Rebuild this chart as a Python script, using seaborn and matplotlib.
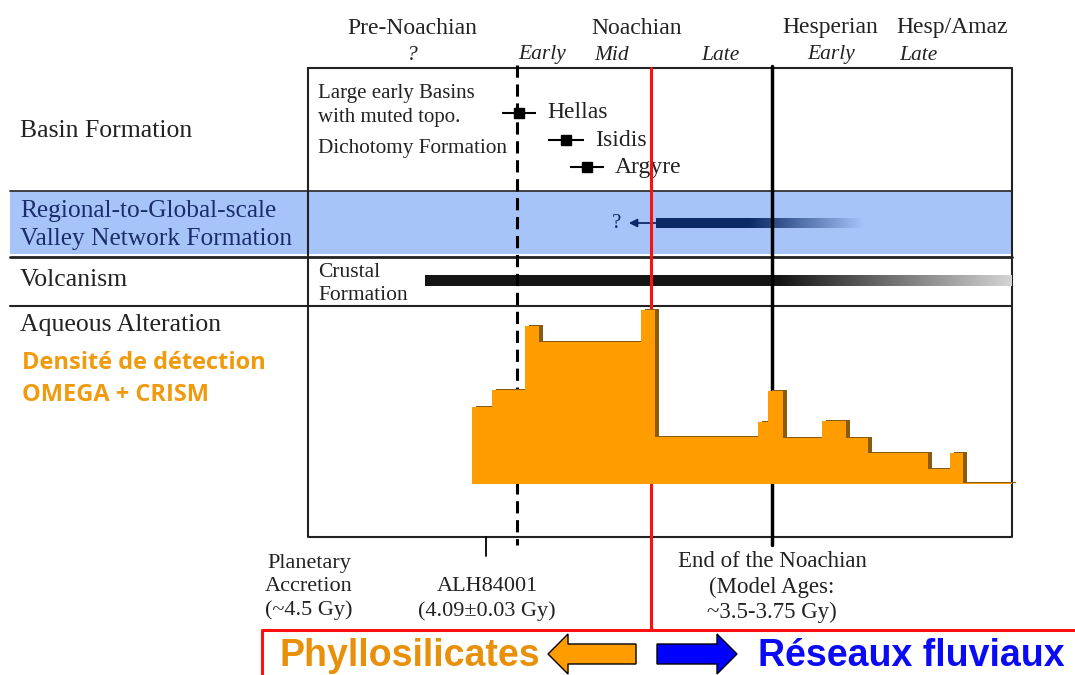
import numpy as np
import pandas as pd
import matplotlib
matplotlib.use("Agg")
import matplotlib.pyplot as plt
import matplotlib.transforms as mtransforms
from matplotlib.patches import Rectangle, FancyArrow
import seaborn as sns

# Timeline x axis runs left to right in diagram units (0-1075)
periodes = ["Pre-Noachian", "Noachian", "Hesperian", "Hesp/Amaz"]
periodes_x = [412, 637, 830, 952]
sous_periodes = ["?", "Early", "Mid", "Late", "Early", "Late"]
sous_periodes_x = [412, 542, 612, 720, 831, 918]

lignes = ["Basin Formation", "Regional-to-Global-scale\nValley Network Formation",
          "Volcanism", "Aqueous Alteration"]

bassins = ["Hellas", "Isidis", "Argyre"]
bassins_age = [519, 566, 587]
bassins_err = [17, 18, 17]

# Aqueous alteration: detection density (OMEGA + CRISM), step histogram
densite_bords = [472, 492, 525, 539, 641, 655, 758, 768, 783, 822, 846, 868, 928, 950, 963, 1012]
densite = [77, 94, 158, 142, 174, 47, 62, 93, 46, 63, 46, 31, 15, 31, 1]

vallees_debut, vallees_solide, vallees_fin = 656, 750, 864
volcan_debut, volcan_solide, volcan_fin = 425, 780, 1012

t_dichotomie = 517
t_fin_noachien = 772
t_phyllo = 651
t_alh = 486

orange = "#FF9C00"
orange_txt = "#F09A0E"
bleu_bande = "#A6C4F8"
marine = "#0B2A66"
gris = "#222222"

sns.set_theme(style="white")
plt.rcParams["font.family"] = ["Liberation Serif", "DejaVu Serif"]

fig = plt.figure(figsize=(10.75, 6.75), dpi=100)
ax = fig.add_axes([0, 0, 1, 1])
ax.set_xlim(0, 1075)
ax.set_ylim(675, 0)
ax.axis("off")

# --- header ---
for nom, x in zip(periodes, periodes_x):
    ax.text(x, 28, nom, ha="center", va="center", fontsize=17, color=gris)
for nom, x in zip(sous_periodes, sous_periodes_x):
    ax.text(x, 55, nom, ha="center", va="center", fontsize=15.5, style="italic", color=gris)

# --- rows ---
ax.add_patch(Rectangle((10, 191), 1002, 63, facecolor=bleu_bande, edgecolor="none", zorder=0))
ax.plot([10, 1012], [191, 191], color="#333333", lw=1.3)
ax.plot([10, 1012], [257, 257], color=gris, lw=2)
ax.plot([10, 1012], [305.5, 305.5], color=gris, lw=1.5)
ax.plot([308, 1012, 1012, 308, 308], [68, 68, 537, 537, 68], color=gris, lw=1.5)

ax.text(20, 131, lignes[0], va="center", fontsize=18.5, color=gris)
ax.text(20, 225, lignes[1], va="center", fontsize=18.3, color="#1A2C6B", linespacing=1.3)
ax.text(20, 280, lignes[2], va="center", fontsize=18.5, color=gris)
ax.text(20, 325, lignes[3], va="center", fontsize=18.5, color=gris)
ax.text(22, 379, "Densité de détection\nOMEGA + CRISM", va="center", fontsize=17,
        fontweight="bold", color=orange_txt, family=["Open Sans", "DejaVu Sans"], linespacing=1.4)

# --- basin formation ---
ax.text(318, 105.5, "Large early Basins\nwith muted topo.", va="center", fontsize=15,
        color=gris, linespacing=1.35)
ax.text(318, 149, "Dichotomy Formation", va="center", fontsize=15.3, color=gris)
bassins_y = [113, 140, 167]
for nom, t, e, y in zip(bassins, bassins_age, bassins_err, bassins_y):
    ax.errorbar(t, y, xerr=e, fmt="s", color="black", ms=7, lw=1.5, capsize=0)
    ax.text(t + e + 11, y, nom, va="center", fontsize=17, color=gris)

# --- valley networks: fading arrow ---
n = 256
grad = np.ones((1, n, 4))
grad[0, :, :3] = matplotlib.colors.to_rgb(marine)
xs = np.linspace(vallees_debut, vallees_fin, n)
grad[0, :, 3] = np.clip(1 - (xs - vallees_solide) / (vallees_fin - vallees_solide), 0, 1)
ax.imshow(grad, extent=[vallees_debut, vallees_fin, 228, 218], aspect="auto", zorder=2,
          interpolation="bilinear")
ax.annotate("", xy=(626, 223), xytext=(vallees_solide, 223),
            arrowprops=dict(arrowstyle="-|>", color=marine, lw=1.3, mutation_scale=12), zorder=3)
ax.text(617, 223, "?", ha="center", va="center", fontsize=15, color=marine)

# --- volcanism: fading bar ---
xs = np.linspace(volcan_debut, volcan_fin, n)
grad2 = np.ones((1, n, 4))
f = np.clip((xs - volcan_solide) / (volcan_fin - volcan_solide), 0, 1)
g = 0.08 + f * 0.75
grad2[0, :, 0] = g
grad2[0, :, 1] = g
grad2[0, :, 2] = g
ax.imshow(grad2, extent=[volcan_debut, volcan_fin, 286, 275], aspect="auto", zorder=2,
          interpolation="bilinear")
ax.text(318, 284, "Crustal\nFormation", va="center", fontsize=15.5, color=gris, linespacing=1.25)

# --- aqueous alteration step histogram ---
base_y = 484
haut = 200
axd = fig.add_axes([0, 1 - base_y / 675, 1, haut / 675])
axd.set_xlim(0, 1075)
axd.set_ylim(0, haut)
axd.axis("off")
axd.patch.set_alpha(0)
df = pd.DataFrame({"t": densite_bords[:-1], "densite": densite})
sns.histplot(data=df, x="t", weights="densite", bins=densite_bords, element="step",
             fill=True, color="#8A5A10", alpha=1, linewidth=0, ax=axd)
ombre = axd.collections[-1]
ombre.set_transform(mtransforms.offset_copy(axd.transData, fig=fig, x=3.5, y=1.5, units="dots"))
sns.histplot(data=df, x="t", weights="densite", bins=densite_bords, element="step",
             fill=True, color=orange, alpha=1, linewidth=0, ax=axd)
axd.set_xlabel("")
axd.set_ylabel("")

# --- vertical markers ---
ax.plot([t_dichotomie, t_dichotomie], [65, 545], color="black", lw=2.2, ls=(0, (4, 2.2)), zorder=4)
ax.plot([t_fin_noachien, t_fin_noachien], [66, 545], color="black", lw=2.5, zorder=4)
ax.plot([t_alh, t_alh], [537, 556], color="black", lw=1.3)
ax.plot([t_phyllo, t_phyllo, 262, 262], [68, 630, 630, 675], color="#FF1010", lw=2.2, zorder=5)
ax.plot([t_phyllo, 1075], [630, 630], color="#FF1010", lw=2.2, zorder=5)

# --- bottom labels ---
ax.text(309, 587, "Planetary\nAccretion\n(~4.5 Gy)", ha="center", va="center", fontsize=16,
        color=gris, linespacing=1.3)
ax.text(487, 599, "ALH84001\n(4.09±0.03 Gy)", ha="center", va="center", fontsize=16,
        color=gris, linespacing=1.3)
ax.text(772, 587, "End of the Noachian\n(Model Ages:\n~3.5-3.75 Gy)", ha="center", va="center",
        fontsize=16.5, color=gris, linespacing=1.28)

sans = ["Liberation Sans", "DejaVu Sans"]
ax.text(280, 656, "Phyllosilicates", va="center", fontsize=27, fontweight="bold",
        color="#E8900A", family=sans)
ax.text(758, 656, "Réseaux fluviaux", va="center", fontsize=27, fontweight="bold",
        color="#0A0AF5", family=sans)
ax.add_patch(FancyArrow(636, 654, -68, 0, width=20, head_width=40, head_length=20,
                        length_includes_head=False, facecolor=orange, edgecolor="black", lw=1))
ax.add_patch(FancyArrow(657, 654, 60, 0, width=20, head_width=40, head_length=20,
                        length_includes_head=False, facecolor="#0000FF", edgecolor="black", lw=1))

fig.savefig("out.png", dpi=100)
